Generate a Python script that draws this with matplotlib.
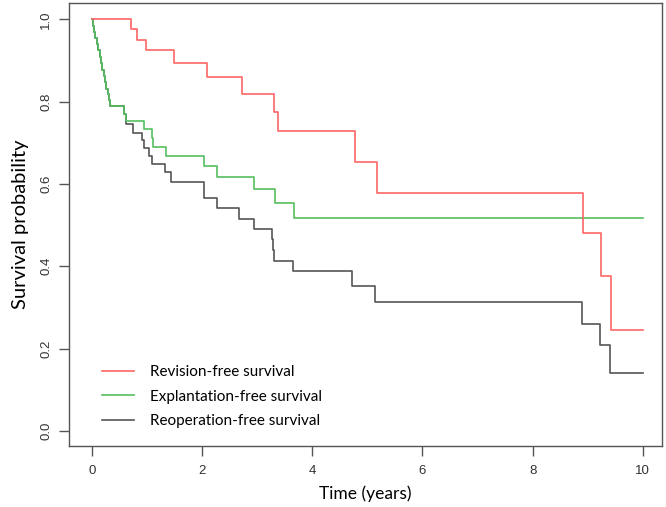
import matplotlib
matplotlib.use('Agg')
import matplotlib.pyplot as plt

# Kaplan-Meier steps (time in years, survival probability)
revision_t = [0, 0.71, 0.82, 0.98, 1.49, 2.09, 2.72, 3.30, 3.38, 4.77, 5.17, 8.92, 9.25, 9.43, 10]
revision_s = [1.0, 0.976, 0.951, 0.925, 0.894, 0.859, 0.819, 0.776, 0.729, 0.654, 0.578, 0.480, 0.377, 0.245, 0.245]

early_t = [0, 0.02, 0.04, 0.06, 0.09, 0.11, 0.14, 0.16, 0.18, 0.21, 0.23, 0.26, 0.29, 0.31, 0.33]
early_s = [1.0, 0.985, 0.97, 0.955, 0.94, 0.925, 0.91, 0.895, 0.878, 0.862, 0.848, 0.832, 0.818, 0.805, 0.789]

explant_t = early_t + [0.58, 0.62, 0.94, 1.08, 1.10, 1.34, 2.03, 2.26, 2.94, 3.32, 3.67, 10]
explant_s = early_s + [0.771, 0.753, 0.733, 0.711, 0.691, 0.668, 0.644, 0.618, 0.587, 0.554, 0.517, 0.517]

reop_t = early_t + [0.58, 0.62, 0.74, 0.90, 0.94, 1.04, 1.09, 1.32, 1.43, 2.03, 2.26, 2.66, 2.94,
                    3.26, 3.28, 3.30, 3.65, 4.72, 5.13, 8.89, 9.22, 9.41, 10]
reop_s = early_s + [0.770, 0.747, 0.725, 0.707, 0.687, 0.669, 0.649, 0.630, 0.606, 0.565, 0.541, 0.516, 0.491,
                    0.466, 0.440, 0.414, 0.389, 0.351, 0.312, 0.260, 0.208, 0.140, 0.140]

labels = ['Revision-free survival', 'Explantation-free survival', 'Reoperation-free survival']
colors = ['#ff6666', '#55c060', '#555555']

fig = plt.figure(figsize=(6.66, 5.07), dpi=100)
ax = fig.add_axes([0.1036, 0.1203, 0.8904, 0.8737])

ax.step(reop_t, reop_s, where='post', color=colors[2], lw=1.2, label=labels[2], zorder=2)
ax.step(explant_t, explant_s, where='post', color=colors[1], lw=1.2, label=labels[1], zorder=3)
ax.step(revision_t, revision_s, where='post', color=colors[0], lw=1.2, label=labels[0], zorder=4)

ax.set_xlim(-0.42, 10.35)
ax.set_ylim(-0.037, 1.04)
ax.set_xticks([0, 2, 4, 6, 8, 10])
ax.set_yticks([0.0, 0.2, 0.4, 0.6, 0.8, 1.0])
ax.set_yticklabels(['0.0', '0.2', '0.4', '0.6', '0.8', '1.0'], rotation=90, va='center')

for sp in ax.spines.values():
    sp.set_color('#555555')
    sp.set_linewidth(1.0)
ax.tick_params(direction='out', length=7, width=1.0, color='#555555',
               labelsize=9.5, labelcolor='#333333')
ax.tick_params(axis='x', pad=7)
ax.tick_params(axis='y', pad=5)
for t in ax.get_xticklabels() + ax.get_yticklabels():
    t.set_fontfamily('Liberation Sans')

ax.set_xlabel('Time (years)', fontsize=12.5, family='Lato', labelpad=6)
ax.set_ylabel('Survival probability', fontsize=14.5, family='Lato', labelpad=8)

handles, labs = ax.get_legend_handles_labels()
order = [2, 1, 0]
leg = ax.legend([handles[i] for i in order], [labs[i] for i in order],
                loc='lower left', bbox_to_anchor=(0.055, 0.04), frameon=False,
                prop={'family': 'Lato', 'size': 11}, handlelength=2.1,
                handletextpad=1.05, labelspacing=0.7, borderpad=0, borderaxespad=0)

fig.savefig('out.png', dpi=100)
